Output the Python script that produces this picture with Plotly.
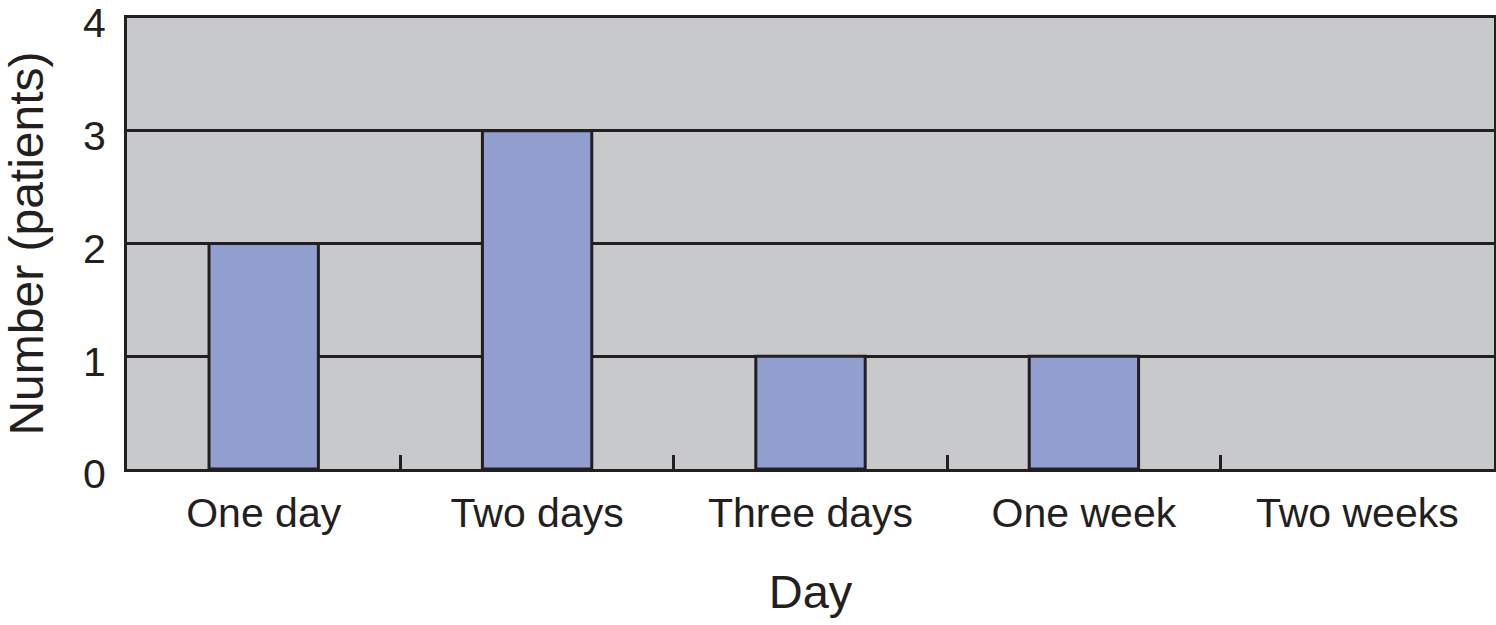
import plotly.graph_objects as go

categories = ["One day", "Two days", "Three days", "One week", "Two weeks"]
patients = [2, 3, 1, 1, 0]
y_ticks = [0, 1, 2, 3, 4]

INK = "#231f20"
FONT = "Liberation Sans, Arial, Helvetica, sans-serif"

fig = go.Figure(
    go.Bar(
        x=categories,
        y=patients,
        width=0.4,
        marker=dict(color="#909fd0", line=dict(color=INK, width=[3 if v > 0 else 0 for v in patients])),
    )
)

fig.update_layout(
    width=1496,
    height=625,
    margin=dict(l=127, r=2, t=18, b=156),
    paper_bgcolor="white",
    plot_bgcolor="#c8c9cb",
    font=dict(family=FONT, color=INK, size=41),
    showlegend=False,
)

fig.update_xaxes(
    type="category",
    automargin=False,
    showline=True, linecolor=INK, linewidth=3, mirror=True,
    tickson="boundaries", ticks="inside", ticklen=14, tickwidth=3, tickcolor=INK,
    ticklabelstandoff=6,
    showgrid=False,
    tickfont=dict(size=41),
    title=dict(text="Day", font=dict(size=47), standoff=40),
)

fig.update_yaxes(
    range=[0, 4],
    tickvals=y_ticks,
    automargin=False,
    ticklabeloverflow="allow",
    ticklabelshift=5,
    showline=True, linecolor=INK, linewidth=3, mirror=True,
    showgrid=True, gridcolor=INK, gridwidth=3,
    zeroline=False,
    ticks="outside", ticklen=10, tickcolor="rgba(0,0,0,0)",
    tickfont=dict(size=41),
    title=dict(text="Number (patients)", font=dict(size=48), standoff=38),
)

fig.write_html(
    "out.html",
    config={"displayModeBar": False},
    post_script="document.body.style.margin='0';document.body.style.overflow='hidden';",
)
